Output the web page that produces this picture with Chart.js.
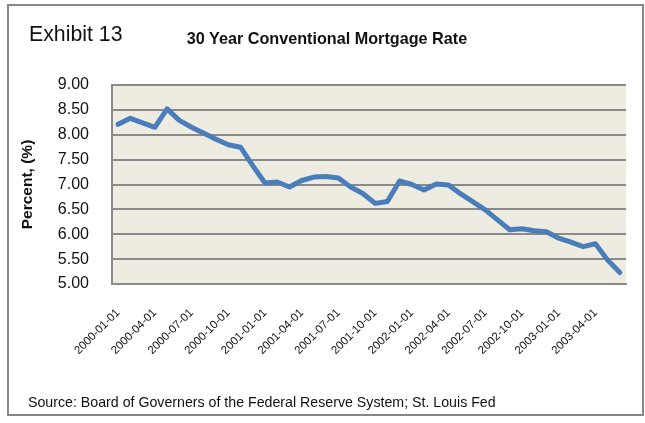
<!DOCTYPE html>
<html>
<head>
<meta charset="utf-8">
<script src="https://cdn.jsdelivr.net/npm/chart.js@4.4.0/dist/chart.umd.min.js"></script>
<style>
  html, body { margin: 0; padding: 0; background: #fff; }
  #wrap { position: relative; width: 645px; height: 423px; overflow: hidden; font-family: "Liberation Sans", Arial, sans-serif; color: #111; }
  #frame { position: absolute; left: 7px; top: 4px; width: 637px; height: 412px; border: 2px solid #878787; box-sizing: border-box; }
  canvas { position: absolute; left: 0; top: 0; }
  .txt { position: absolute; white-space: nowrap; line-height: 1; }
  #exhibit { left: 29px; top: 24px; font-size: 21.3px; }
  #title { left: 327px; top: 30px; font-size: 16.2px; font-weight: bold; transform: translateX(-50%); }
  #source { left: 28px; top: 395px; font-size: 14.2px; }
</style>
</head>
<body>
<div id="wrap">
  <div id="frame"></div>
  <canvas id="mortgageChart" width="645" height="423"></canvas>
  <div class="txt" id="exhibit">Exhibit 13</div>
  <div class="txt" id="title">30 Year Conventional Mortgage Rate</div>
  <div class="txt" id="source">Source: Board of Governers of the Federal Reserve System; St. Louis Fed</div>
</div>
<script>
// Monthly observations, Jan 2000 - Jun 2003
const months = [
  '2000-01-01', '2000-02-01', '2000-03-01', '2000-04-01', '2000-05-01', '2000-06-01',
  '2000-07-01', '2000-08-01', '2000-09-01', '2000-10-01', '2000-11-01', '2000-12-01',
  '2001-01-01', '2001-02-01', '2001-03-01', '2001-04-01', '2001-05-01', '2001-06-01',
  '2001-07-01', '2001-08-01', '2001-09-01', '2001-10-01', '2001-11-01', '2001-12-01',
  '2002-01-01', '2002-02-01', '2002-03-01', '2002-04-01', '2002-05-01', '2002-06-01',
  '2002-07-01', '2002-08-01', '2002-09-01', '2002-10-01', '2002-11-01', '2002-12-01',
  '2003-01-01', '2003-02-01', '2003-03-01', '2003-04-01', '2003-05-01', '2003-06-01'
];

// 30 year conventional mortgage rate, percent
const rates = [
  8.21, 8.33, 8.24, 8.15, 8.52, 8.29,
  8.15, 8.03, 7.91, 7.80, 7.75, 7.38,
  7.03, 7.05, 6.95, 7.08, 7.15, 7.16,
  7.13, 6.95, 6.82, 6.62, 6.66, 7.07,
  7.00, 6.89, 7.01, 6.99, 6.81, 6.65,
  6.49, 6.29, 6.09, 6.11, 6.07, 6.05,
  5.92, 5.84, 5.75, 5.81, 5.48, 5.23
];

const yMin = 5.0;
const yMax = 9.0;
const yStep = 0.5;
const labelEvery = 3; // one date label per quarter

const FONT = '"Liberation Sans", Arial, sans-serif';
const TEXT = '#111';
const GRID = '#8a8a8a';

// beige fill behind the plot area
const plotBackground = {
  id: 'plotBackground',
  beforeDraw(chart) {
    const { ctx, chartArea: a } = chart;
    ctx.save();
    ctx.fillStyle = '#eeebe1';
    ctx.fillRect(a.left, a.top, a.right - a.left, a.bottom - a.top);
    ctx.restore();
  }
};

new Chart(document.getElementById('mortgageChart'), {
  type: 'line',
  data: {
    labels: months,
    datasets: [{
      label: '30 Year Conventional Mortgage Rate',
      data: rates,
      borderColor: '#4a7ebb',
      borderWidth: 5,
      borderJoinStyle: 'round',
      borderCapStyle: 'round',
      pointRadius: 0,
      tension: 0,
      fill: false
    }]
  },
  options: {
    responsive: false,
    animation: false,
    layout: { padding: { left: 8, top: 85, right: 19, bottom: 8 } },
    plugins: {
      legend: { display: false },
      tooltip: { enabled: false }
    },
    scales: {
      x: {
        offset: true,
        grid: { display: false, drawTicks: false },
        border: { display: true, color: GRID, width: 2 },
        ticks: {
          autoSkip: false,
          minRotation: 45,
          maxRotation: 45,
          padding: 22,
          color: TEXT,
          font: { family: FONT, size: 11.5 },
          callback: (v, i) => (i % labelEvery === 0 ? months[i] : '')
        },
        afterFit: s => {
          s.height = 423 - 8 - 284;
          // the rotated labels would otherwise pull the plot edge inwards
          s.paddingLeft = 0;
          s.paddingRight = 0;
        }
      },
      y: {
        min: yMin,
        max: yMax,
        ticks: {
          stepSize: yStep,
          padding: 23,
          color: TEXT,
          font: { family: FONT, size: 16 },
          callback: v => Number(v).toFixed(2)
        },
        grid: { color: GRID, lineWidth: 2, drawTicks: false },
        border: { display: true, color: GRID, width: 2 },
        title: {
          display: true,
          text: 'Percent, (%)',
          color: TEXT,
          font: { family: FONT, size: 15.5, weight: 'bold' },
          padding: { top: 10, bottom: 0 }
        },
        afterFit: s => { s.width = 104; }
      }
    }
  },
  plugins: [plotBackground]
});
</script>
</body>
</html>
